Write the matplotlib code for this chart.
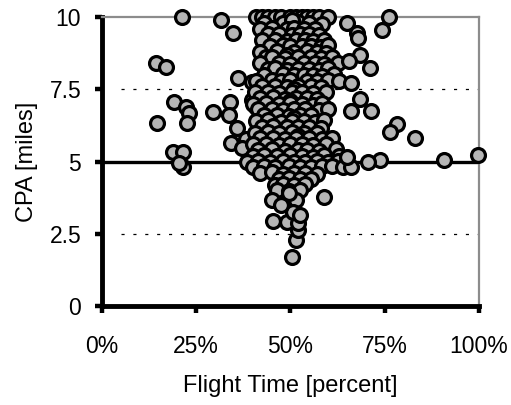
import matplotlib
matplotlib.use("Agg")
import matplotlib.pyplot as plt
from matplotlib.ticker import FixedLocator

plt.rcParams["font.family"] = ["Liberation Sans", "DejaVu Sans"]

# isolated points left of the main cluster
left_ft = [21.1, 31.7, 34.8, 14.2, 16.9, 19.1, 22.3, 23.2, 22.5, 14.5, 29.5, 34.1,
           33.8, 35.7, 38.1, 34.2, 37.1, 18.9, 21.6, 21.6, 20.5, 36.2, 39.7, 39.7, 41.0]
left_cpa = [10.0, 9.9, 9.45, 8.40, 8.28, 7.07, 6.87, 6.67, 6.34, 6.32, 6.72, 7.07,
            6.61, 6.15, 5.77, 5.63, 5.46, 5.34, 5.34, 4.82, 4.95, 7.88, 7.76, 7.13, 6.90]

# isolated points right of the main cluster
right_ft = [76.2, 74.4, 64.9, 67.6, 68.0, 68.4, 65.6, 71.1, 66.2, 68.6, 66.0, 71.5,
            78.2, 76.4, 83.0, 99.8, 90.7, 73.7, 70.6, 66.2, 64.9]
right_cpa = [9.99, 9.55, 9.78, 9.43, 9.26, 8.68, 8.49, 8.22, 7.71, 7.15, 6.76, 6.76,
             6.30, 6.03, 5.80, 5.22, 5.05, 5.05, 4.99, 4.82, 5.17]

# low-CPA tail below the cluster
tail_ft = [50.3, 51.6, 52.1, 49.0, 45.4, 52.0, 45.0, 51.6, 58.9, 50.7, 52.5, 47.5, 49.5]
tail_cpa = [1.71, 2.28, 2.63, 2.92, 2.95, 2.87, 3.67, 3.67, 3.76, 3.26, 3.15, 3.50, 3.90]

# dense cluster around mid-flight
core_ft = [
    41, 42.5, 44, 46, 47.5, 50, 51.5, 53, 54.5, 56, 57.5, 60,
    43, 48, 52, 55, 58.5, 50.5,
    42, 45, 49, 51, 53.5, 56.5,
    44, 47, 50.5, 52.5, 55, 57.5,
    42.5, 46, 49, 51.5, 54, 56, 59,
    44.5, 48, 50, 53, 55.5, 58, 60,
    42, 46.5, 51, 54.5, 57, 59.5, 49,
    43.5, 45, 48.5, 52, 55.5, 58, 61,
    42, 47, 50, 53.5, 56.5, 59, 62.5,
    44, 46, 49, 52, 55, 57.5, 60,
    43, 48, 51, 53.5, 56, 58.5, 61.5,
    41, 45, 47.5, 50, 54.5, 57, 60, 63,
    42.5, 46, 49, 52, 55.5, 58, 51,
    40.5, 44, 47, 50.5, 53, 56, 59.5,
    42, 45.5, 48.5, 51.5, 54.5, 57, 50,
    40, 43.5, 47, 50, 53, 56, 58.5,
    41.5, 45, 48, 51, 54, 57.5, 60,
    43, 46.5, 49.5, 52.5, 55.5, 51,
    41, 44, 47.5, 50.5, 53.5, 56.5, 59,
    42.5, 45.5, 49, 52, 55, 58,
    40.5, 44, 47, 50.5, 53.5, 57, 52,
    42, 45.5, 48.5, 51.5, 55, 58.5, 61,
    40, 43.5, 47, 50, 53, 56, 59.5,
    41.5, 45, 48.5, 52, 54.5, 57.5, 62,
    40, 43, 46.5, 50, 53, 56, 59, 63,
    38.5, 41.5, 44.5, 48, 51, 54, 57, 60, 62.5,
    40, 43, 46, 49.5, 52.5, 55.5, 58.5, 61, 64,
    42, 45, 48, 51, 54, 57,
    47, 49.5, 52.5, 55.5,
    46, 48, 51, 54,
    46.5, 49.5, 52.5,
]
core_cpa = [
    10.0, 10.0, 10.0, 10.0, 10.0, 10.0, 10.0, 10.0, 10.0, 10.0, 10.0, 10.0,
    9.80, 9.78, 9.82, 9.80, 9.76, 9.90,
    9.60, 9.62, 9.58, 9.61, 9.60, 9.57,
    9.40, 9.42, 9.38, 9.41, 9.40, 9.37,
    9.20, 9.22, 9.18, 9.21, 9.20, 9.17, 9.22,
    9.00, 9.02, 8.98, 9.01, 9.00, 8.97, 9.02,
    8.80, 8.82, 8.78, 8.81, 8.80, 8.77, 8.70,
    8.60, 8.62, 8.58, 8.61, 8.60, 8.57, 8.62,
    8.40, 8.42, 8.38, 8.41, 8.40, 8.37, 8.42,
    8.20, 8.22, 8.18, 8.21, 8.20, 8.17, 8.22,
    8.00, 8.02, 7.98, 8.01, 8.00, 7.97, 8.02,
    7.80, 7.82, 7.78, 7.81, 7.80, 7.77, 7.82, 7.79,
    7.60, 7.62, 7.58, 7.61, 7.60, 7.57, 7.50,
    7.40, 7.42, 7.38, 7.41, 7.40, 7.37, 7.42,
    7.20, 7.22, 7.18, 7.21, 7.20, 7.17, 7.10,
    7.00, 7.02, 6.98, 7.01, 7.00, 6.97, 7.02,
    6.80, 6.82, 6.78, 6.81, 6.80, 6.77, 6.82,
    6.60, 6.62, 6.58, 6.61, 6.60, 6.50,
    6.40, 6.42, 6.38, 6.41, 6.40, 6.37, 6.42,
    6.20, 6.22, 6.18, 6.21, 6.20, 6.17,
    6.00, 6.02, 5.98, 6.01, 6.00, 5.97, 5.90,
    5.80, 5.82, 5.78, 5.81, 5.80, 5.77, 5.82,
    5.60, 5.62, 5.58, 5.61, 5.60, 5.57, 5.62,
    5.40, 5.42, 5.38, 5.41, 5.40, 5.37, 5.42,
    5.20, 5.22, 5.18, 5.21, 5.20, 5.17, 5.22, 5.19,
    5.00, 5.02, 4.98, 5.01, 5.00, 4.97, 5.02, 4.99, 5.01,
    4.82, 4.85, 4.80, 4.84, 4.82, 4.80, 4.85, 4.83, 4.81,
    4.60, 4.62, 4.58, 4.61, 4.60, 4.57,
    4.40, 4.42, 4.38, 4.41,
    4.20, 4.22, 4.18, 4.21,
    4.00, 3.98, 4.02,
]

flight_time = left_ft + core_ft + right_ft + tail_ft
cpa = left_cpa + core_cpa + right_cpa + tail_cpa

x_ticks = [0, 25, 50, 75, 100]
x_tick_labels = ["0%", "25%", "50%", "75%", "100%"]
y_ticks = [0, 2.5, 5, 7.5, 10]
y_tick_labels = ["0", "2.5", "5", "7.5", "10"]

fig = plt.figure(figsize=(5.11, 4.05), dpi=100)
ax = fig.add_axes([0.1996, 0.2444, 0.7374, 0.7136])

ax.axhline(5, color="black", lw=2.4, zorder=2)
for yv in (2.5, 7.5):
    ax.axhline(yv, xmin=0.05, color="black", lw=0.9, ls=(0, (2.5, 7)), zorder=1)

ax.scatter(flight_time, cpa, s=100, facecolor="#b5b5b5", edgecolor="black",
           linewidths=2.3, zorder=3, clip_on=False)

ax.set_xlim(0, 100)
ax.set_ylim(0, 10)
ax.xaxis.set_major_locator(FixedLocator(x_ticks))
ax.yaxis.set_major_locator(FixedLocator(y_ticks))
ax.set_xticklabels(x_tick_labels)
ax.set_yticklabels(y_tick_labels)
ax.tick_params(axis="both", direction="out", length=5, width=3.2, labelsize=16.5)
ax.tick_params(axis="x", pad=16)
ax.tick_params(axis="y", pad=10)

for side in ("left", "bottom"):
    ax.spines[side].set_linewidth(3.5)
    ax.spines[side].set_color("black")
for side in ("top", "right"):
    ax.spines[side].set_linewidth(1.6)
    ax.spines[side].set_color("#8c8c8c")

ax.set_xlabel("Flight Time [percent]", fontsize=17, labelpad=12)
ax.set_ylabel("CPA [miles]", fontsize=17, labelpad=8)

fig.savefig("out.png", dpi=100)
